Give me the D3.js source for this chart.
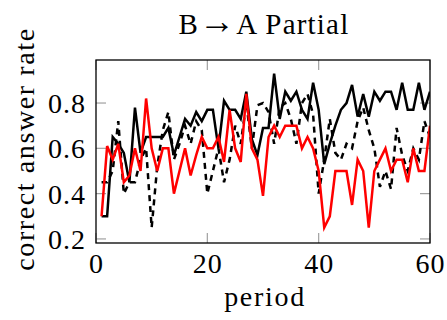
<!DOCTYPE html>
<html>
<head>
<meta charset="utf-8">
<script src="https://cdn.jsdelivr.net/npm/d3@7"></script>
<style>
  html, body { margin: 0; padding: 0; background: #fff; }
  svg { display: block; }
  text { font-family: "Liberation Serif", "DejaVu Serif", serif; fill: #000; }
</style>
</head>
<body>
<svg id="chart" width="447" height="320"></svg>
<script>
const periods = [1,2,3,4,5,6,7,8,9,10,11,12,13,14,15,16,17,18,19,20,21,22,23,24,25,26,27,28,29,30,
  31,32,33,34,35,36,37,38,39,40,41,42,43,44,45,46,47,48,49,50,51,52,53,54,55,56,57,58,59,60];

const blackSolid = [0.30,0.30,0.65,0.62,0.58,0.45,0.78,0.58,0.65,0.65,
  0.65,0.65,0.69,0.57,0.65,0.73,0.70,0.76,0.72,0.77,
  0.77,0.60,0.81,0.77,0.77,0.73,0.85,0.64,0.57,0.69,
  0.69,0.93,0.73,0.85,0.81,0.85,0.77,0.73,0.89,0.77,
  0.53,0.62,0.70,0.77,0.80,0.88,0.74,0.84,0.74,0.85,
  0.81,0.85,0.85,0.77,0.89,0.77,0.77,0.89,0.77,0.85];

const blackDashed = [0.45,0.45,0.50,0.72,0.40,0.45,0.45,0.55,0.60,0.25,
  0.52,0.68,0.76,0.55,0.62,0.70,0.62,0.72,0.68,0.40,
  0.50,0.60,0.45,0.55,0.70,0.62,0.80,0.60,0.79,0.80,
  0.76,0.62,0.78,0.80,0.73,0.62,0.80,0.84,0.75,0.40,
  0.55,0.73,0.58,0.55,0.62,0.60,0.72,0.78,0.68,0.60,
  0.43,0.50,0.42,0.69,0.57,0.50,0.60,0.55,0.72,0.65];

const redSolid = [0.30,0.61,0.55,0.62,0.45,0.48,0.60,0.50,0.82,0.60,
  0.50,0.60,0.60,0.40,0.50,0.60,0.48,0.57,0.65,0.60,
  0.60,0.65,0.54,0.77,0.60,0.54,0.84,0.60,0.55,0.39,
  0.65,0.70,0.65,0.70,0.70,0.70,0.60,0.65,0.60,0.50,
  0.25,0.30,0.50,0.50,0.50,0.35,0.55,0.50,0.25,0.50,
  0.55,0.60,0.50,0.55,0.55,0.45,0.60,0.50,0.50,0.70];

const xTicks = [0, 20, 40, 60];
const yTicks = [0.2, 0.4, 0.6, 0.8];
const titleParts = ["B", "\u2192", "A Partial"];
const xLabel = "period";
const yLabel = "correct answer rate";

const svg = d3.select("#chart");
const L = 96, R = 430, T = 60, B = 243;
const x = d3.scaleLinear().domain([0, 60]).range([L, R]);
const y = d3.scaleLinear().domain([0.182, 0.99]).range([B, T]);
const FS = 28;

svg.append("defs").append("clipPath").attr("id", "clip")
  .append("rect").attr("x", L).attr("y", T).attr("width", R - L).attr("height", B - T);

// inward gray ticks on all four sides
const tickLen = 10;
const tickG = svg.append("g").attr("stroke", "#a0a0a0").attr("stroke-width", 1.2);
xTicks.forEach(v => {
  tickG.append("line").attr("x1", x(v)).attr("x2", x(v)).attr("y1", B).attr("y2", B - tickLen);
  tickG.append("line").attr("x1", x(v)).attr("x2", x(v)).attr("y1", T).attr("y2", T + tickLen);
});
yTicks.forEach(v => {
  tickG.append("line").attr("x1", L).attr("x2", L + tickLen).attr("y1", y(v)).attr("y2", y(v));
  tickG.append("line").attr("x1", R).attr("x2", R - tickLen).attr("y1", y(v)).attr("y2", y(v));
});

const plot = svg.append("g").attr("clip-path", "url(#clip)");
const mk = vals => d3.line().x((d, i) => x(periods[i])).y(d => y(d))(vals);

plot.append("path").attr("d", mk(blackSolid)).attr("fill", "none")
  .attr("stroke", "#000").attr("stroke-width", 2.5);
plot.append("path").attr("d", mk(blackDashed)).attr("fill", "none")
  .attr("stroke", "#000").attr("stroke-width", 2.5).attr("stroke-dasharray", "6,5");
plot.append("path").attr("d", mk(redSolid)).attr("fill", "none")
  .attr("stroke", "#ff0000").attr("stroke-width", 2.5);

svg.append("rect").attr("x", L).attr("y", T).attr("width", R - L).attr("height", B - T)
  .attr("fill", "none").attr("stroke", "#000").attr("stroke-width", 1.3);

const xAxis = d3.axisBottom(x).tickValues(xTicks).tickSize(0).tickPadding(0).tickFormat(d3.format("d"));
const gx = svg.append("g").attr("transform", `translate(0,${B})`).call(xAxis);
gx.select(".domain").remove();
gx.selectAll("text").attr("font-size", FS).attr("dy", null).attr("y", 30)
  .style("font-family", '"Liberation Serif", serif').style("letter-spacing", "1px").attr("fill", "#000");

const yAxis = d3.axisLeft(y).tickValues(yTicks).tickSize(0).tickPadding(0).tickFormat(d3.format(".1f"));
const gy = svg.append("g").attr("transform", `translate(${L},0)`).call(yAxis);
gy.select(".domain").remove();
gy.selectAll("text").attr("font-size", FS).attr("x", -10).attr("dy", "0.34em")
  .style("font-family", '"Liberation Serif", serif').style("letter-spacing", "1px").attr("fill", "#000");

const title = svg.append("text").attr("x", 264).attr("y", 34).attr("text-anchor", "middle")
  .attr("font-size", FS + 1).style("letter-spacing", "1.2px");
title.append("tspan").text(titleParts[0]);
title.append("tspan").style("font-family", '"Liberation Sans", sans-serif').attr("font-size", FS + 8)
  .attr("dy", -1).text(titleParts[1]);
title.append("tspan").attr("dy", 1).text(titleParts[2]);

svg.append("text").attr("x", 265).attr("y", 306).attr("text-anchor", "middle")
  .attr("font-size", FS).style("letter-spacing", "1.7px").text(xLabel);
svg.append("text").attr("transform", "translate(34,149) rotate(-90)").attr("text-anchor", "middle")
  .attr("font-size", FS).style("letter-spacing", "1.6px").text(yLabel);
</script>
</body>
</html>
